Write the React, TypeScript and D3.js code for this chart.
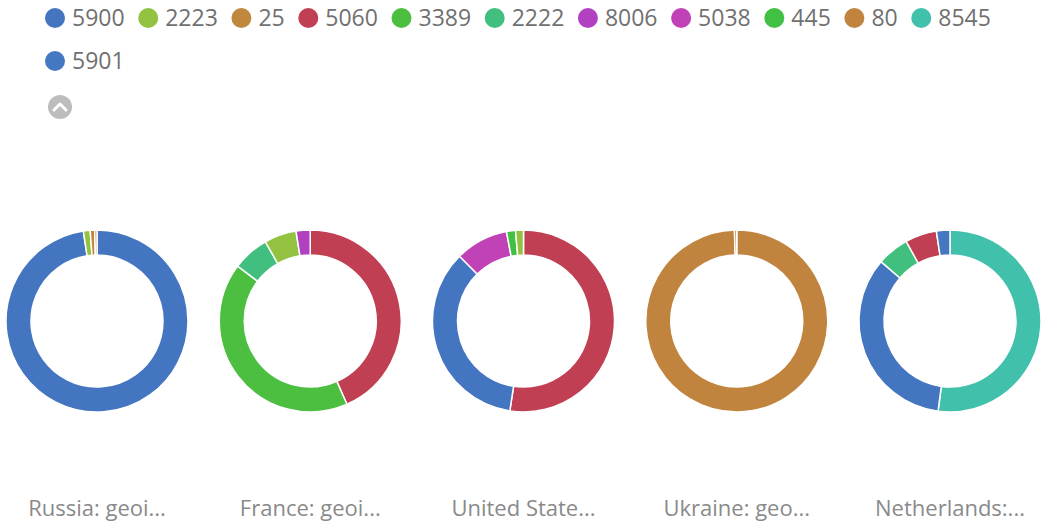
import React, { useMemo } from "react";
import * as d3 from "d3";

const legendKeys = ["5900", "2223", "25", "5060", "3389", "2222", "8006", "5038", "445", "80", "8545", "5901"];
const legendColors = ["#4475c1", "#93c240", "#c0883f", "#c13f52", "#4cbf40", "#41bf7e", "#b141c1", "#c142b7", "#41c043", "#c0843f", "#41c0ab", "#4479c2"];

const chartTitles = ["Russia: geoi...", "France: geoi...", "United State...", "Ukraine: geo...", "Netherlands:..."];

const russiaKeys = ["5900", "2223", "25", "80"];
const russiaValues = [97.6, 1.2, 0.8, 0.4];
const franceKeys = ["5060", "3389", "2222", "2223", "8006"];
const franceValues = [43.4, 41.9, 6.5, 5.7, 2.5];
const usKeys = ["5060", "5900", "5038", "445", "2223"];
const usValues = [52.4, 35.2, 9.4, 1.6, 1.4];
const ukraineKeys = ["80", "25"];
const ukraineValues = [99.6, 0.4];
const netherlandsKeys = ["8545", "5900", "2222", "5060", "5901"];
const netherlandsValues = [52.1, 34.2, 5.7, 5.6, 2.4];

const W = 1042;
const H = 523;
const FONT = "'Open Sans', sans-serif";

function measure(text: string, size: number) {
  const c = document.createElement("canvas").getContext("2d")!;
  c.font = `${size}px 'Open Sans'`;
  return c.measureText(text).width;
}

export default function App() {
  const color = d3.scaleOrdinal<string, string>().domain(legendKeys).range(legendColors);
  const charts = [
    { keys: russiaKeys, values: russiaValues },
    { keys: franceKeys, values: franceValues },
    { keys: usKeys, values: usValues },
    { keys: ukraineKeys, values: ukraineValues },
    { keys: netherlandsKeys, values: netherlandsValues },
  ];
  const x = d3.scalePoint<number>().domain(d3.range(charts.length)).range([97, 950]);
  const outerR = 91;
  const innerR = 66;
  const cy = 321;
  const arc = d3.arc<d3.PieArcDatum<number>>().innerRadius(innerR).outerRadius(outerR);
  const pie = d3.pie<number>().sort(null).value((d) => d);

  const legendSize = 23;
  const legend = useMemo(() => {
    const items: { key: string; cx: number; row: number }[] = [];
    let cx = 55;
    let row = 0;
    legendKeys.forEach((k) => {
      const w = measure(k, legendSize);
      if (cx + 17 + w > 1015) {
        row += 1;
        cx = 55;
      }
      items.push({ key: k, cx, row });
      cx += 17 + w + 23.6;
    });
    return items;
  }, []);

  return (
    <svg width={W} height={H} style={{ position: "absolute", left: 0, top: 0, background: "#fff" }} fontFamily={FONT}>
      {legend.map((it) => (
        <g key={it.key} transform={`translate(${it.cx},${18 + it.row * 43})`}>
          <circle r={10} fill={color(it.key)} />
          <text x={17} dy="0.35em" fontSize={legendSize} fill="#707070">{it.key}</text>
        </g>
      ))}
      <g transform="translate(60,107)">
        <circle r={12} fill="#bdbdbd" />
        <path d="M-6,3 L0,-3 L6,3" fill="none" stroke="#fff" strokeWidth={3} strokeLinecap="round" strokeLinejoin="round" />
      </g>
      {charts.map((c, i) => (
        <g key={i} transform={`translate(${x(i)},${cy})`}>
          {pie(c.values).map((a, j) => (
            <path key={j} d={arc(a) || ""} fill={color(c.keys[j])} stroke="#fff" strokeWidth={1.5} />
          ))}
          <text y={187} textAnchor="middle" dy="0.35em" fontSize={22} fill="#8a8a8a">{chartTitles[i]}</text>
        </g>
      ))}
    </svg>
  );
}
